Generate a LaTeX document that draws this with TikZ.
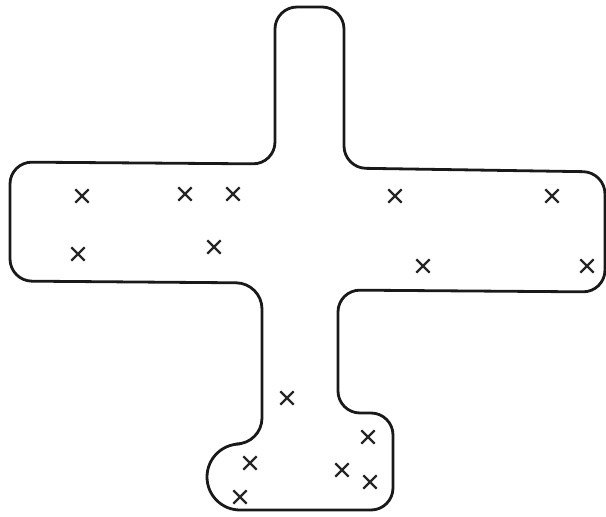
\documentclass[tikz,border=0pt]{standalone}
\usepackage{tikz}
\usetikzlibrary{shapes.misc}

\begin{document}
\begin{tikzpicture}[
        x=1pt, y=-1pt,
        outline/.style={draw=black!90, line width=2.8pt, line join=round},
        cross/.style={cross out, draw=black!85, line width=2.3pt, minimum size=11pt, inner sep=0pt},
    ]
    \useasboundingbox (0,0) rectangle (606,517);

    % === OUTLINE ===
    \draw[outline, rounded corners=22pt]
        (275,100) -- (275,7) -- (344,7) -- (344,168)
        -- (605,172) -- (605,292) -- (338,290)
        -- (338,413) -- (393,413) -- (393,510)
        [rounded corners=33pt] -- (207,510) -- (207,444)
        [rounded corners=26pt] -- (262,444) -- (262,283)
        [rounded corners=22pt] -- (10,281) -- (10,162) -- (275,164) -- cycle;

    % === LEFT ARM ===
    \node[cross] (l1) at (82,196) {};
    \node[cross] (l2) at (185,194) {};
    \node[cross] (l3) at (233,194) {};
    \node[cross] (l4) at (78,254) {};
    \node[cross] (l5) at (214,247) {};

    % === RIGHT ARM ===
    \node[cross] (r1) at (395,196) {};
    \node[cross] (r2) at (552,196) {};
    \node[cross] (r3) at (423,266) {};
    \node[cross] (r4) at (587,266) {};

    % === STEM AND FOOT ===
    \node[cross] (s1) at (287,398) {};
    \node[cross] (s2) at (368,437) {};
    \node[cross] (s3) at (250,463) {};
    \node[cross] (s4) at (342,470) {};
    \node[cross] (s5) at (370,482) {};
    \node[cross] (s6) at (240,497) {};

\end{tikzpicture}
\end{document}
